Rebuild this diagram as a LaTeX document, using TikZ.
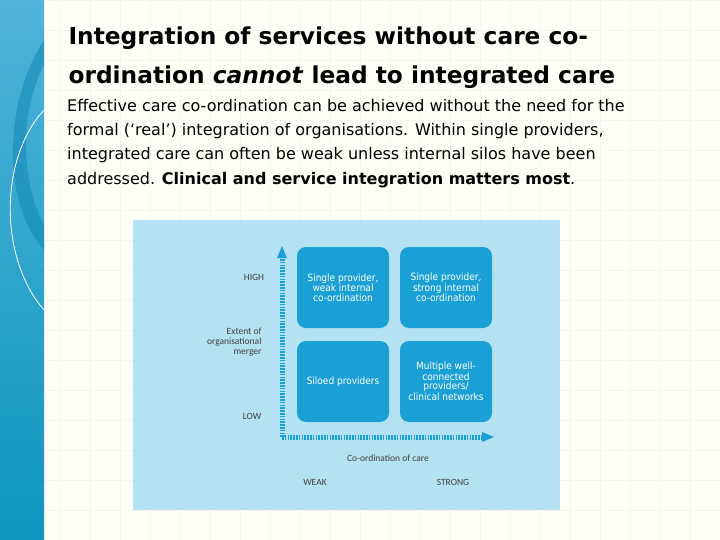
\documentclass[tikz,border=0pt]{standalone}
\usepackage{fontspec}
\setmainfont{Carlito}
\newfontfamily\bodyfont{DejaVu Sans}
\newfontfamily\bodyfontc{DejaVu Sans Condensed}
\begin{document}
\begin{tikzpicture}[x=1pt,y=-1pt,
  quad/.style={fill=boxblue,rounded corners=9pt,minimum width=92pt,minimum height=81pt,text=white,align=center,font=\fontsize{10}{9.5}\selectfont},
  lbl/.style={font=\fontsize{9.5}{10}\selectfont,text=black!75,align=center},
  axis/.style={draw=boxblue,line width=5pt,dash pattern=on 1.6pt off 1.2pt}]
\definecolor{boxblue}{HTML}{1AA0D4}
\definecolor{panel}{HTML}{B5E2F2}
\definecolor{bartop}{HTML}{4FB3DA}
\definecolor{barbot}{HTML}{0E96BE}
\definecolor{swoosh}{HTML}{1288B5}
\useasboundingbox (0,0) rectangle (720,540);
\fill[white!97!yellow] (0,0) rectangle (720,540);
\draw[black!4,step=30pt] (44,0) grid (720,540);
\shade[top color=bartop,bottom color=barbot] (0,0) rectangle (44,540);
\fill[swoosh,opacity=.55] (44,40) .. controls (5,100) and (0,200) .. (44,250) -- (44,225) .. controls (20,180) and (20,110) .. (44,65) -- cycle;
\draw[white,line width=0.8pt] (44,110) .. controls (-2,160) and (0,260) .. (44,310);
\node[anchor=west,font=\bodyfont\bfseries\fontsize{23.3}{28}\selectfont] (t1) at (65,38) {Integration of services without care co-};
\node[anchor=west,font=\bodyfont\bfseries\fontsize{23.3}{28}\selectfont] (t2) at (65,77) {ordination \textit{cannot} lead to integrated care};
\node[anchor=north west,align=left,font=\bodyfont\fontsize{16}{24.3}\selectfont,inner sep=0pt] (body) at (67,99) {Effective care co-ordination can be achieved without the need for the\\formal (‘real’) integration of organisations. Within single providers,\\integrated care can often be weak unless internal silos have been\\addressed. \textbf{Clinical and service integration matters most}.};
\fill[panel] (133,220) rectangle (560,510);
\node[quad] (tl) at (343,287.5) {\bodyfontc Single provider,\\\bodyfontc weak internal\\\bodyfontc co-ordination};
\node[quad] (tr) at (446,287.5) {\bodyfontc Single provider,\\\bodyfontc strong internal\\\bodyfontc co-ordination};
\node[quad] (bl) at (343,381.5) {\bodyfontc Siloed providers};
\node[quad] (br) at (446,381.5) {\bodyfontc Multiple well-\\\bodyfontc connected\\\bodyfontc providers/\\\bodyfontc clinical networks};
\coordinate (o) at (282,437);
\coordinate (ytop) at (282,258);
\coordinate (xend) at (482,437);
\draw[axis] (o) -- (ytop);
\draw[axis] (o) -- (xend);
\fill[boxblue] (277,258) -- (287,258) -- (282,246) -- cycle;
\fill[boxblue] (482,432) -- (482,442) -- (494,437) -- cycle;
\node[lbl] (hi) at (254,277) {HIGH};
\node[lbl] (lo) at (252,416) {LOW};
\node[lbl,align=right,anchor=east] (ext) at (265,342) {Extent of\\organisational\\merger};
\node[lbl] (coc) at (388,458) {Co-ordination of care};
\node[lbl] (wk) at (315,482) {WEAK};
\node[lbl] (st) at (453,482) {STRONG};
\end{tikzpicture}
\end{document}
